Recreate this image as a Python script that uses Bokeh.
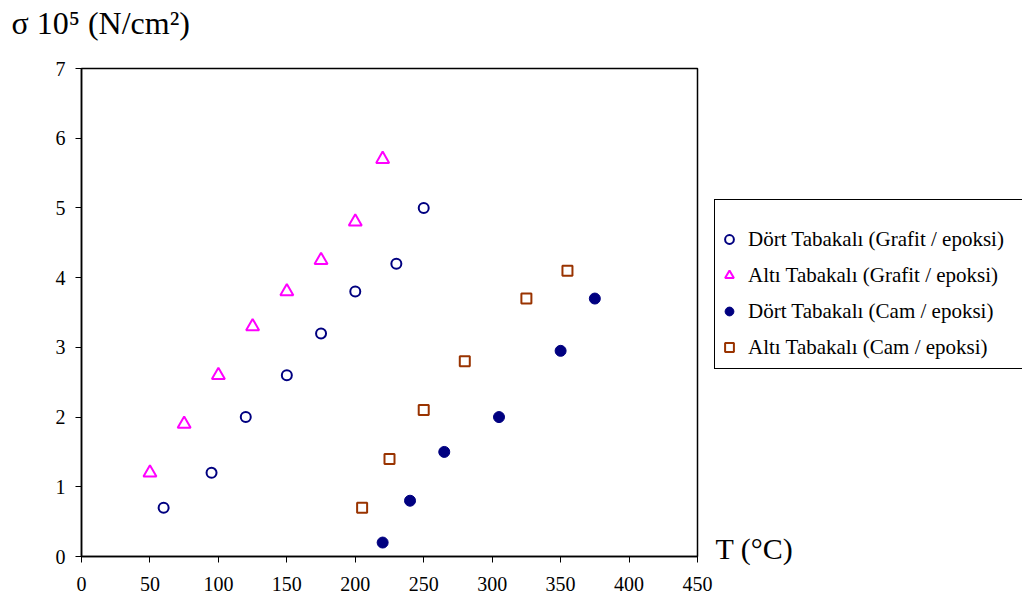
from bokeh.plotting import figure
from bokeh.layouts import row
from bokeh.models import Legend, LegendItem, Title, SingleIntervalTicker
from bokeh.embed import file_html
from bokeh.resources import INLINE

# Data
dort_grafit_T = [60, 95, 120, 150, 175, 200, 230, 250]
dort_grafit_s = [0.7, 1.2, 2.0, 2.6, 3.2, 3.8, 4.2, 5.0]
alti_grafit_T = [50, 75, 100, 125, 150, 175, 200, 220]
alti_grafit_s = [1.2, 1.9, 2.6, 3.3, 3.8, 4.25, 4.8, 5.7]
dort_cam_T = [220, 240, 265, 305, 350, 375]
dort_cam_s = [0.2, 0.8, 1.5, 2.0, 2.95, 3.7]
alti_cam_T = [205, 225, 250, 280, 325, 355]
alti_cam_s = [0.7, 1.4, 2.1, 2.8, 3.7, 4.1]

series_names = [
    "Dört Tabakalı (Grafit / epoksi)",
    "Altı Tabakalı (Grafit / epoksi)",
    "Dört Tabakalı (Cam / epoksi)",
    "Altı Tabakalı (Cam / epoksi)",
]
y_caption = "σ 10⁵ (N/cm²)"
x_caption = "T  (°C)"

FONT = "Liberation Serif"
NAVY = "#000080"
MAGENTA = "#FF00FF"
BROWN = "#993300"

styles = [
    dict(marker="circle", size=10, fill_color=None, line_color=NAVY, line_width=2),
    dict(marker="triangle", size=13, fill_color=None, line_color=MAGENTA, line_width=2),
    dict(marker="circle", size=11, fill_color=NAVY, line_color=NAVY, line_width=1),
    dict(marker="square", size=10, fill_color=None, line_color=BROWN, line_width=2),
]
series = [(dort_grafit_T, dort_grafit_s), (alti_grafit_T, alti_grafit_s),
          (dort_cam_T, dort_cam_s), (alti_cam_T, alti_cam_s)]

# ---------------- main chart ----------------
p = figure(width=713, height=600, x_range=(0, 450), y_range=(0, 7),
           output_backend="svg", toolbar_location=None, title=None,
           min_border_left=81, min_border_right=16,
           min_border_top=68, min_border_bottom=44)
p.xgrid.visible = False
p.ygrid.visible = False
p.outline_line_color = "black"
p.outline_line_width = 1.5
p.outline_line_alpha = 1
p.background_fill_color = "white"
p.border_fill_color = "white"

for ax in (p.xaxis[0], p.yaxis[0]):
    ax.axis_line_color = "black"
    ax.axis_line_width = 1.5
    ax.major_tick_line_color = "black"
    ax.major_tick_in = 0
    ax.major_tick_out = 6
    ax.minor_tick_line_color = None
    ax.major_label_text_font = FONT
    ax.major_label_text_font_size = "20px"
    ax.major_label_text_color = "black"
p.xaxis.major_label_standoff = 14
p.yaxis.major_label_standoff = 10
p.xaxis.ticker = SingleIntervalTicker(interval=50)
p.yaxis.ticker = SingleIntervalTicker(interval=1)

for (xs, ys), st in zip(series, styles):
    p.scatter(xs, ys, **st)

# y caption: a spacer title next to the frame, then the caption above it
p.add_layout(Title(text=" ", text_font_size="12px", standoff=6), "above")
p.add_layout(Title(text=y_caption, align="left", offset=-70, text_font=FONT,
                   text_font_size="32px", text_font_style="normal",
                   text_color="black", vertical_align="top", standoff=8),
             "above")

# ---------------- right-hand panel holding the legend ----------------
# same series drawn again, but the panel's ranges keep them out of view;
# they only feed the legend's glyphs
p2 = figure(width=309, height=600, x_range=(-2, -1), y_range=(-2, -1),
            output_backend="svg", toolbar_location=None, title=None,
            x_axis_location=None, y_axis_location=None,
            min_border_left=0, min_border_right=0,
            min_border_top=68, min_border_bottom=44)
p2.xgrid.visible = False
p2.ygrid.visible = False
p2.outline_line_color = None
p2.background_fill_color = "white"
p2.border_fill_color = "white"

proxies = [p2.scatter(xs, ys, **st) for (xs, ys), st in zip(series, styles)]
legend = Legend(items=[LegendItem(label=n, renderers=[r])
                       for n, r in zip(series_names, proxies)],
                location=(1, 187), padding=3, spacing=0, margin=0,
                title=" ", title_text_font_size="12px", title_standoff=4,
                glyph_width=22, glyph_height=36, label_height=36,
                label_width=320, label_standoff=8,
                label_text_font=FONT, label_text_font_size="21px",
                label_text_color="black",
                border_line_color="black", border_line_width=1.5,
                border_line_alpha=1,
                background_fill_color="white", background_fill_alpha=1)
p2.add_layout(legend, "center")

# x caption beside the end of the x axis
p2.add_layout(Title(text=x_caption, align="left", offset=2, text_font=FONT,
                    text_font_size="30px", text_font_style="normal",
                    text_color="black", vertical_align="top", standoff=-50),
              "below")

layout = row(p, p2)
open("out.html", "w").write(file_html(layout, INLINE))
